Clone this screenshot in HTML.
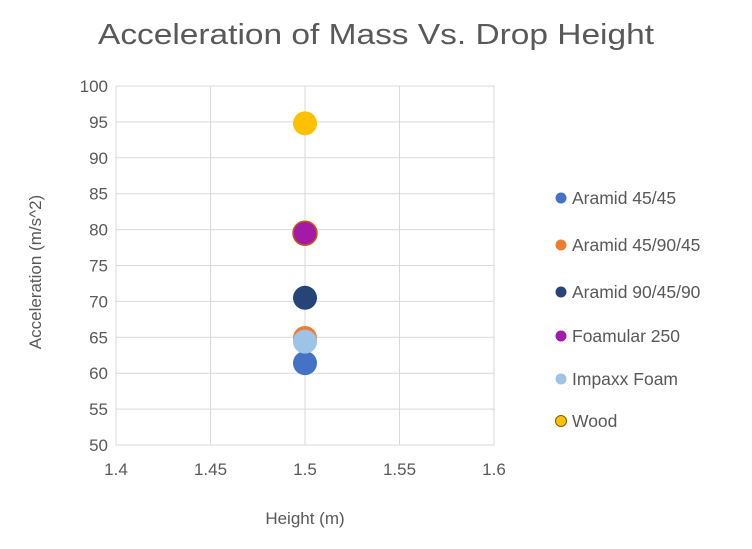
<!DOCTYPE html>
<html><head><meta charset="utf-8"><style>
body{margin:0;background:#fff}
svg text{font-family:"Liberation Sans",sans-serif;fill:#595959}
</style></head><body>
<svg id="c" width="752" height="544" xmlns="http://www.w3.org/2000/svg">
<text x="376" y="44" text-anchor="middle" font-size="29" textLength="556" lengthAdjust="spacingAndGlyphs">Acceleration of Mass Vs. Drop Height</text>
<g id="grid"></g><g id="pts"></g><g id="leg"></g>
<text x="305" y="524" text-anchor="middle" font-size="17">Height (m)</text>
<text transform="translate(41,272) rotate(-90)" text-anchor="middle" font-size="17">Acceleration (m/s^2)</text>
</svg>
<script>
const seriesNames=["Aramid 45/45","Aramid 45/90/45","Aramid 90/45/90","Foamular 250","Impaxx Foam","Wood"];
const xValues=[1.5,1.5,1.5,1.5,1.5,1.5];
const yValues=[61.4,64.9,70.5,79.5,64.4,94.8];
const colors=["#4472c4","#ed7d31","#264478","#a31aa8","#9dc3e6","#ffc000"];
const xTicks=[1.4,1.45,1.5,1.55,1.6];
const yTicks=[50,55,60,65,70,75,80,85,90,95,100];
const drawOrder=[1,0,2,3,4,5];
const NS="http://www.w3.org/2000/svg";
const X0=116,X1=494,Y0=445,Y1=86;
const sx=v=>X0+(v-1.4)/(0.2)*(X1-X0);
const sy=v=>Y0-(v-50)/50*(Y0-Y1);
function mk(t,a,p){const e=document.createElementNS(NS,t);for(const k in a)e.setAttribute(k,a[k]);p.appendChild(e);return e;}
const g=document.getElementById('grid');
yTicks.forEach(v=>{
 const l=mk('line',{x1:X0,x2:X1,y1:sy(v),y2:sy(v),stroke:'#d9d9d9','stroke-width':1},g);
 
 
 const t=mk('text',{x:X0-8,y:sy(v)+6,'text-anchor':'end','font-size':17},g);t.textContent=v;
 
 
});
xTicks.forEach(v=>{
 const l=mk('line',{x1:sx(v),x2:sx(v),y1:Y1,y2:Y0,stroke:'#d9d9d9','stroke-width':1},g);
 
 
 const t=mk('text',{x:sx(v),y:Y0+30,'text-anchor':'middle','font-size':17},g);t.textContent=v;
 
 
});
const p=document.getElementById('pts');
drawOrder.forEach(i=>{
 const c=mk('circle',{cx:sx(xValues[i]),cy:sy(yValues[i]),r:12,fill:colors[i]},p);
 if(i===3){c.setAttribute('stroke','#c55a11');c.setAttribute('stroke-width','1.5');}
 
 
});
const lg=document.getElementById('leg');
const legY=[198,245,292,336,379,421];
seriesNames.forEach((n,i)=>{
 const c=mk('circle',{cx:561,cy:legY[i],r:5.5,fill:colors[i]},lg);
 if(i===5){c.setAttribute('stroke','#7f6000');c.setAttribute('stroke-width','1');}
 
 
 const t=mk('text',{x:572,y:legY[i]+6,'font-size':17.5},lg);t.textContent=n;
 
 
});
</script>
</body></html>
